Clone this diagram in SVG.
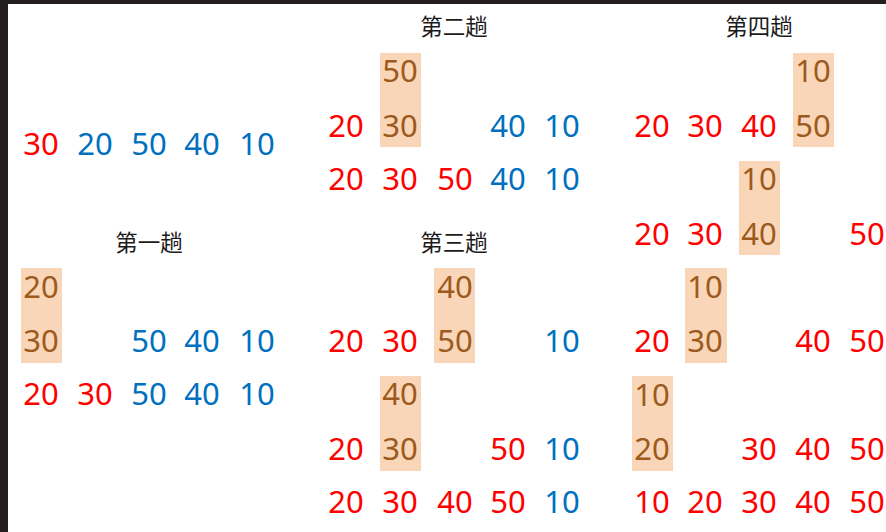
<svg xmlns="http://www.w3.org/2000/svg" width="886" height="532" viewBox="0 0 886 532">
<style>
.n{font-family:"Noto Sans","DejaVu Sans",sans-serif;font-size:31px;text-anchor:middle}
.r{fill:#ff0000}
.b{fill:#0070c0}
.h{fill:#9c5a1c}
.t{font-family:"Noto Sans CJK SC","Noto Sans",sans-serif;font-size:22.5px;fill:#1a1a1a;text-anchor:middle}
.hl{fill:#fad6b9}
</style>
<rect x="0" y="0" width="886" height="532" fill="#231f20"/>
<rect x="8" y="4" width="878" height="528" fill="#ffffff"/>

<g id="initial">
<text class="n r" x="41" y="155">30</text>
<text class="n b" x="95" y="155">20</text>
<text class="n b" x="149" y="155">50</text>
<text class="n b" x="202" y="155">40</text>
<text class="n b" x="257" y="155">10</text>
</g>

<g id="pass1">
<text class="t" x="149" y="251">第一趟</text>
<rect class="hl" x="21" y="268" width="41" height="95"/>
<text class="n h" x="41" y="298">20</text>
<text class="n h" x="41" y="352">30</text>
<text class="n b" x="149" y="352">50</text>
<text class="n b" x="202" y="352">40</text>
<text class="n b" x="257" y="352">10</text>
<text class="n r" x="41" y="405">20</text>
<text class="n r" x="95" y="405">30</text>
<text class="n b" x="149" y="405">50</text>
<text class="n b" x="202" y="405">40</text>
<text class="n b" x="257" y="405">10</text>
</g>

<g id="pass2">
<text class="t" x="454" y="35">第二趟</text>
<rect class="hl" x="380" y="53" width="41" height="94"/>
<text class="n h" x="400" y="82">50</text>
<text class="n r" x="346" y="137">20</text>
<text class="n h" x="400" y="137">30</text>
<text class="n b" x="508" y="137">40</text>
<text class="n b" x="562" y="137">10</text>
<text class="n r" x="346" y="190">20</text>
<text class="n r" x="400" y="190">30</text>
<text class="n r" x="455" y="190">50</text>
<text class="n b" x="508" y="190">40</text>
<text class="n b" x="562" y="190">10</text>
</g>

<g id="pass3">
<text class="t" x="454" y="251">第三趟</text>
<rect class="hl" x="434" y="268" width="41" height="95"/>
<text class="n h" x="455" y="298">40</text>
<text class="n r" x="346" y="352">20</text>
<text class="n r" x="400" y="352">30</text>
<text class="n h" x="455" y="352">50</text>
<text class="n b" x="562" y="352">10</text>
<rect class="hl" x="380" y="376" width="41" height="95"/>
<text class="n h" x="400" y="405">40</text>
<text class="n r" x="346" y="460">20</text>
<text class="n h" x="400" y="460">30</text>
<text class="n r" x="508" y="460">50</text>
<text class="n b" x="562" y="460">10</text>
<text class="n r" x="346" y="513">20</text>
<text class="n r" x="400" y="513">30</text>
<text class="n r" x="455" y="513">40</text>
<text class="n r" x="508" y="513">50</text>
<text class="n b" x="562" y="513">10</text>
</g>

<g id="pass4">
<text class="t" x="759" y="35">第四趟</text>
<rect class="hl" x="793" y="53" width="41" height="94"/>
<text class="n h" x="813" y="82">10</text>
<text class="n r" x="652" y="137">20</text>
<text class="n r" x="705" y="137">30</text>
<text class="n r" x="759" y="137">40</text>
<text class="n h" x="813" y="137">50</text>
<rect class="hl" x="739" y="161" width="41" height="94"/>
<text class="n h" x="759" y="190">10</text>
<text class="n r" x="652" y="245">20</text>
<text class="n r" x="705" y="245">30</text>
<text class="n h" x="759" y="245">40</text>
<text class="n r" x="867" y="245">50</text>
<rect class="hl" x="685" y="268" width="42" height="95"/>
<text class="n h" x="705" y="298">10</text>
<text class="n r" x="652" y="352">20</text>
<text class="n h" x="705" y="352">30</text>
<text class="n r" x="813" y="352">40</text>
<text class="n r" x="867" y="352">50</text>
<rect class="hl" x="632" y="376" width="41" height="95"/>
<text class="n h" x="652" y="406">10</text>
<text class="n h" x="652" y="460">20</text>
<text class="n r" x="759" y="460">30</text>
<text class="n r" x="813" y="460">40</text>
<text class="n r" x="867" y="460">50</text>
<text class="n r" x="652" y="513">10</text>
<text class="n r" x="705" y="513">20</text>
<text class="n r" x="759" y="513">30</text>
<text class="n r" x="813" y="513">40</text>
<text class="n r" x="867" y="513">50</text>
</g>
</svg>
